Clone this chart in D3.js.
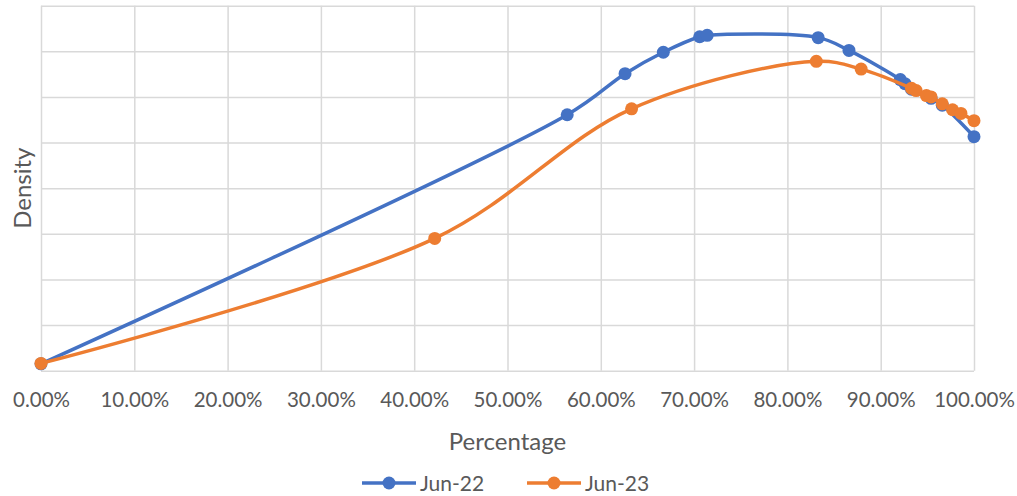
<!DOCTYPE html>
<html>
<head>
<meta charset="utf-8">
<script src="https://cdn.jsdelivr.net/npm/d3@7"></script>
<style>
  html, body { margin: 0; padding: 0; background: #ffffff; }
  svg { display: block; font-family: Lato, "Open Sans", sans-serif; }
</style>
</head>
<body>
<svg id="chart" width="1017" height="496"></svg>
<script>
// Percentage positions (x) and density readings (y) for each series
const jun22X = [0, 56.4, 62.6, 66.7, 70.6, 71.4, 83.3, 86.6, 92.1, 92.6, 93.3, 95.4, 96.6, 100];
const jun22Y = [0.15, 5.61, 6.51, 6.98, 7.32, 7.35, 7.30, 7.02, 6.38, 6.29, 6.17, 5.97, 5.82, 5.13];

const jun23X = [0, 42.2, 63.3, 83.1, 87.9, 93.3, 93.8, 94.9, 95.4, 96.6, 97.7, 98.6, 100];
const jun23Y = [0.16, 2.90, 5.74, 6.78, 6.61, 6.19, 6.14, 6.03, 6.00, 5.85, 5.72, 5.64, 5.48];

const seriesNames = ["Jun-22", "Jun-23"];
const xTicks = [0, 10, 20, 30, 40, 50, 60, 70, 80, 90, 100];
const yTicks = [0, 1, 2, 3, 4, 5, 6, 7, 8];

const colors = ["#4472C4", "#ED7D31"];
const textColor = "#595959";
const gridColor = "#d9d9d9";

const svg = d3.select("#chart");
const plot = { left: 41, right: 974, top: 5.7, bottom: 370.7 };

const x = d3.scaleLinear().domain([0, 100]).range([plot.left, plot.right]);
const y = d3.scaleLinear().domain([0, 8]).range([plot.bottom, plot.top]);

// horizontal gridlines
svg.append("g")
  .attr("transform", `translate(${plot.left},0)`)
  .call(d3.axisLeft(y).tickValues(yTicks).tickSize(-(plot.right - plot.left)).tickFormat(""))
  .call(g => g.select(".domain").remove())
  .call(g => g.selectAll("line").attr("stroke", gridColor).attr("stroke-width", 1.5));

// vertical gridlines and percentage labels
svg.append("g")
  .attr("transform", `translate(0,${plot.bottom})`)
  .call(d3.axisBottom(x).tickValues(xTicks).tickSize(-(plot.bottom - plot.top))
    .tickPadding(22).tickFormat(d => d.toFixed(2) + "%"))
  .call(g => g.select(".domain").remove())
  .call(g => g.selectAll("line").attr("stroke", gridColor).attr("stroke-width", 1.5))
  .call(g => g.selectAll("text")
    .attr("fill", textColor)
    .attr("font-size", "20.5px")
    .attr("font-family", "Lato, 'Open Sans', sans-serif"));

const line = d3.line()
  .x(d => x(d[0]))
  .y(d => y(d[1]))
  .curve(d3.curveCatmullRom.alpha(0.5));

const series = [
  d3.zip(jun22X, jun22Y),
  d3.zip(jun23X, jun23Y)
];

series.forEach((pts, i) => {
  const g = svg.append("g");
  g.append("path")
    .datum(pts)
    .attr("fill", "none")
    .attr("stroke", colors[i])
    .attr("stroke-width", 3.5)
    .attr("stroke-linejoin", "round")
    .attr("stroke-linecap", "round")
    .attr("d", line);
  g.selectAll("circle")
    .data(pts)
    .join("circle")
    .attr("cx", d => x(d[0]))
    .attr("cy", d => y(d[1]))
    .attr("r", 6.5)
    .attr("fill", colors[i]);
});

// axis titles
svg.append("text")
  .attr("x", (plot.left + plot.right) / 2)
  .attr("y", 450)
  .attr("text-anchor", "middle")
  .attr("fill", textColor)
  .attr("font-size", "24px")
  .text("Percentage");

svg.append("text")
  .attr("transform", `translate(31,${(plot.top + plot.bottom) / 2}) rotate(-90)`)
  .attr("text-anchor", "middle")
  .attr("fill", textColor)
  .attr("font-size", "24px")
  .text("Density");

// legend
const legendItems = [
  { x1: 362, x2: 416, label: 420 },
  { x1: 527, x2: 581, label: 585 }
];
const ly = 483;
legendItems.forEach((it, i) => {
  const g = svg.append("g");
  g.append("line")
    .attr("x1", it.x1).attr("x2", it.x2)
    .attr("y1", ly).attr("y2", ly)
    .attr("stroke", colors[i]).attr("stroke-width", 3.5);
  g.append("circle")
    .attr("cx", (it.x1 + it.x2) / 2).attr("cy", ly)
    .attr("r", 6.5).attr("fill", colors[i]);
  g.append("text")
    .attr("x", it.label).attr("y", ly)
    .attr("dy", "0.36em")
    .attr("fill", textColor)
    .attr("font-size", "21px")
    .text(seriesNames[i]);
});
</script>
</body>
</html>
